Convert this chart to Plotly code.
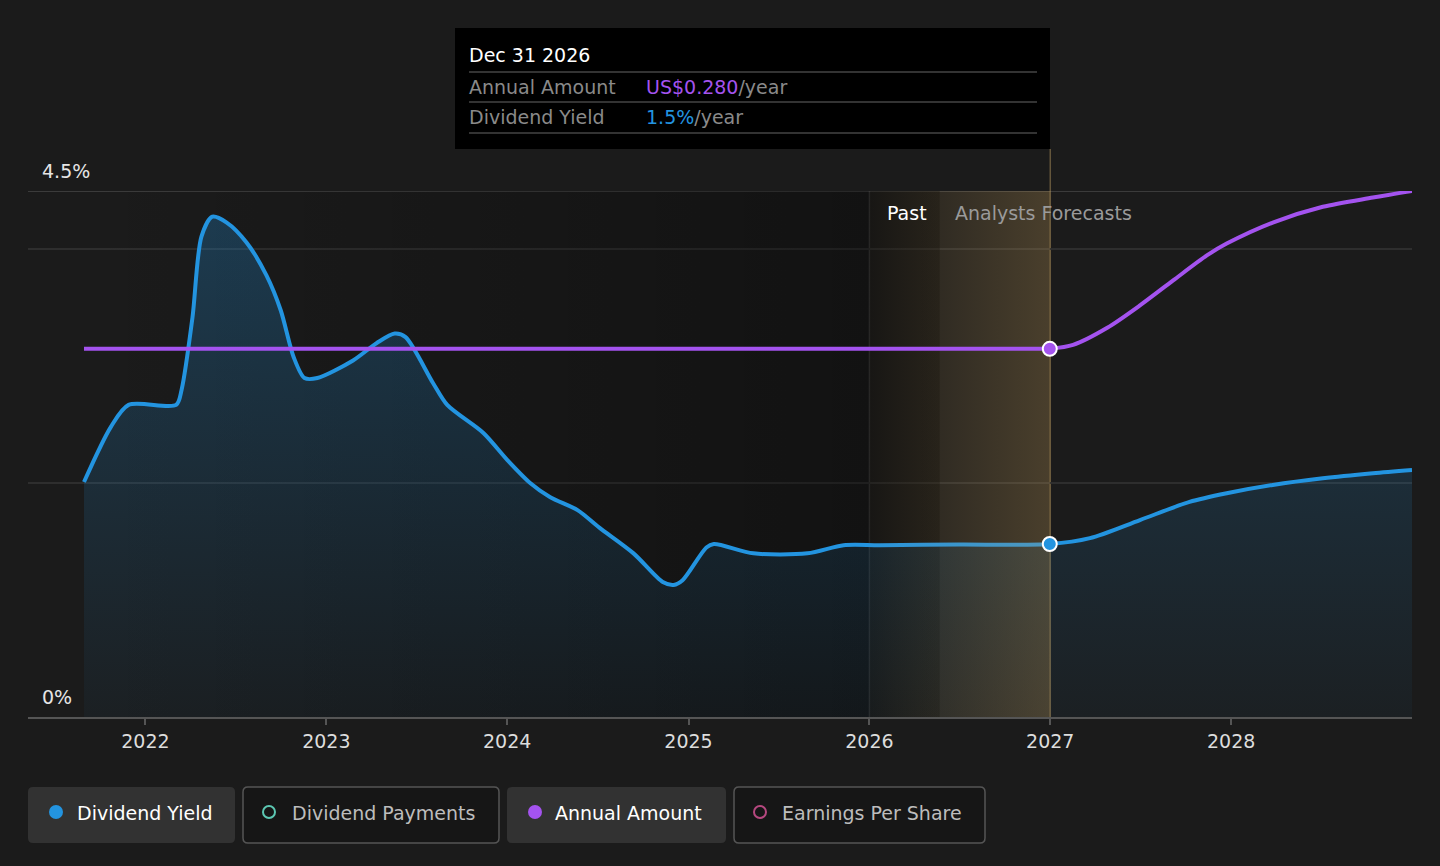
"""
Dividend yield / annual amount chart (dark theme) with plotly
"""
import plotly.graph_objects as go

# data
yield_dates = ['2021-08-30', '2021-10-23', '2021-11-28', '2022-03-04', '2022-03-15',
               '2022-04-06', '2022-04-24', '2022-05-16', '2022-06-14', '2022-07-24', '2022-09-02',
               '2022-10-01', '2022-10-27', '2022-11-18', '2022-12-14', '2023-02-24', '2023-04-13',
               '2023-05-19', '2023-06-10', '2023-08-04', '2023-09-02', '2023-11-14', '2024-01-01',
               '2024-02-17', '2024-03-28', '2024-05-22', '2024-07-05', '2024-09-12', '2024-11-10',
               '2024-12-02', '2024-12-20', '2025-02-06', '2025-02-21', '2025-05-12', '2025-08-29',
               '2025-11-10', '2026-01-22', '2026-07-01', '2026-12-31', '2027-03-22', '2027-07-01',
               '2027-10-09', '2027-12-23', '2028-03-25', '2028-07-04', '2028-10-13', '2028-12-31']
yield_values = [2.01, 2.48, 2.67, 2.67, 2.80,
                3.42, 4.11, 4.28, 4.23, 4.06, 3.78,
                3.48, 3.08, 2.90, 2.90, 3.05, 3.20,
                3.28, 3.25, 2.86, 2.67, 2.43, 2.20,
                2.00, 1.88, 1.77, 1.62, 1.40, 1.155,
                1.13, 1.17, 1.45, 1.48, 1.40, 1.40,
                1.47, 1.47, 1.475, 1.48, 1.53, 1.685,
                1.84, 1.914, 1.985, 2.042, 2.085, 2.113]

amount_dates = ['2021-08-30', '2026-12-31', '2027-02-16', '2027-04-26', '2027-07-01', '2027-09-06',
                '2027-11-13', '2027-12-23', '2028-03-25', '2028-07-04', '2028-10-13', '2028-12-31']
amount_values = [0.28, 0.28, 0.283, 0.296, 0.313, 0.332,
                 0.351, 0.360, 0.376, 0.388, 0.395, 0.40]

current_date = '2026-12-31'
current_yield = 1.48
current_amount = 0.28

year_ticks = ['2022-01-01', '2023-01-01', '2024-01-01', '2025-01-01', '2026-01-01', '2027-01-01', '2028-01-01']
year_labels = ['2022', '2023', '2024', '2025', '2026', '2027', '2028']

past_start = '2026-01-01'
past_label_end = '2026-05-23'
forecast_start = '2027-01-01'

BG = '#1b1b1b'
BLUE = '#2394e0'
PURPLE = '#a453ef'
FONT = 'DejaVu Sans'
FS = 19


# pixel -> paper helpers (plot area 28..1412 x 191..717)
def px(x):
    return (x - 28) / 1384


def py(y):
    return (717 - y) / 526


def rounded_rect(x0, y0, x1, y1, r=5):
    return (f"M {px(x0 + r)},{py(y0)} L {px(x1 - r)},{py(y0)} Q {px(x1)},{py(y0)} {px(x1)},{py(y0 + r)} "
            f"L {px(x1)},{py(y1 - r)} Q {px(x1)},{py(y1)} {px(x1 - r)},{py(y1)} "
            f"L {px(x0 + r)},{py(y1)} Q {px(x0)},{py(y1)} {px(x0)},{py(y1 - r)} "
            f"L {px(x0)},{py(y0 + r)} Q {px(x0)},{py(y0)} {px(x0 + r)},{py(y0)} Z")


def label(text, x, y, color, size=FS):
    # 左对齐文字，x 减 2 抵消 annotation 自带的内边距
    return dict(text=text, x=px(x - 2), y=py(y), xref='paper', yref='paper', xanchor='left',
                yanchor='middle', showarrow=False, font=dict(size=size, color=color, family=FONT))


fig = go.Figure()

# 过去区域的暗色渐变
fig.add_trace(go.Scatter(
    x=[yield_dates[0], past_label_end, past_label_end, yield_dates[0]],
    y=[0, 0, 4.5, 4.5],
    fill='toself', mode='lines', line=dict(width=0),
    fillgradient=dict(type='horizontal',
                      colorscale=[[0, 'rgba(0,0,0,0)'], [1, 'rgba(0,0,0,0.36)']]),
    hoverinfo='skip', showlegend=False
))

# dividend yield fill
fig.add_trace(go.Scatter(
    x=yield_dates, y=yield_values, mode='lines',
    line=dict(width=0, shape='spline', smoothing=0.8),
    fill='tozeroy',
    fillgradient=dict(type='vertical', start=0, stop=4.5,
                      colorscale=[[0, 'rgba(35,148,224,0.04)'], [1, 'rgba(35,148,224,0.28)']]),
    hoverinfo='skip', showlegend=False
))

# annual amount: flat past part + smooth forecast part
split = amount_dates.index(current_date)
fig.add_trace(go.Scatter(
    x=amount_dates[:split + 1], y=amount_values[:split + 1], mode='lines', yaxis='y2',
    line=dict(color=PURPLE, width=4),
    name='Annual Amount', showlegend=False
))
fig.add_trace(go.Scatter(
    x=amount_dates[split:], y=amount_values[split:], mode='lines', yaxis='y2',
    line=dict(color=PURPLE, width=4, shape='spline', smoothing=0.8),
    name='Annual Amount', showlegend=False
))

# dividend yield line
fig.add_trace(go.Scatter(
    x=yield_dates, y=yield_values, mode='lines',
    line=dict(color=BLUE, width=4, shape='spline', smoothing=0.8),
    name='Dividend Yield', showlegend=False
))

# past -> forecast golden band
fig.add_trace(go.Scatter(
    x=[past_start, forecast_start, forecast_start, past_start],
    y=[0, 0, 4.5, 4.5],
    fill='toself', mode='lines', line=dict(width=0),
    fillgradient=dict(type='horizontal',
                      colorscale=[[0, 'rgba(200,160,90,0.03)'], [1, 'rgba(200,160,90,0.27)']]),
    hoverinfo='skip', showlegend=False
))

# current markers
fig.add_trace(go.Scatter(
    x=[current_date], y=[current_amount], mode='markers', yaxis='y2',
    marker=dict(size=14, color=PURPLE, line=dict(color='white', width=2)),
    hoverinfo='skip', showlegend=False
))
fig.add_trace(go.Scatter(
    x=[current_date], y=[current_yield], mode='markers',
    marker=dict(size=14, color=BLUE, line=dict(color='white', width=2)),
    hoverinfo='skip', showlegend=False
))

shapes = [
    # top line at 4.5%
    dict(type='line', xref='paper', yref='y', x0=0, x1=1, y0=4.5, y1=4.5,
         line=dict(color='#474747', width=1.5), layer='below'),
    # 2026 / 2027 boundaries
    dict(type='line', xref='x', yref='y', x0=past_start, x1=past_start, y0=0, y1=4.5,
         line=dict(color='rgba(255,255,255,0.12)', width=1.5), layer='below'),
    dict(type='line', xref='x', yref='paper', x0=forecast_start, x1=forecast_start, y0=0, y1=py(149),
         line=dict(color='rgba(190,160,100,0.45)', width=1.5), layer='below'),
    # tooltip
    dict(type='rect', xref='paper', yref='paper', x0=px(455), x1=px(1050), y0=py(149), y1=py(28),
         fillcolor='#000000', line=dict(width=0), layer='above'),
]
for ly in [72, 102, 133]:
    shapes.append(dict(type='line', xref='paper', yref='paper', x0=px(469), x1=px(1037), y0=py(ly), y1=py(ly),
                       line=dict(color='#444444', width=1.5), layer='above'))

annotations = [
    label('4.5%', 42, 171, '#e6e6e6'),
    label('0%', 42, 697, '#e6e6e6'),
    label('Past', 887, 213, '#ffffff'),
    label('Analysts Forecasts', 955, 213, '#9a9a9a'),
    # tooltip texts
    label('Dec 31 2026', 469, 55, '#ffffff'),
    label('Annual Amount', 469, 87, '#8a8a8a'),
    label(f"<span style='color:{PURPLE}'>US${current_amount:.3f}</span>/year", 646, 87, '#8a8a8a'),
    label('Dividend Yield', 469, 117, '#8a8a8a'),
    label(f"<span style='color:{BLUE}'>1.5%</span>/year", 646, 117, '#8a8a8a'),
]

# 自制图例按钮
legend_items = [
    # label, box x0, x1, active, dot colour, text x
    ('Dividend Yield', 28, 235, True, BLUE, 77),
    ('Dividend Payments', 243, 499, False, '#5cc7b2', 292),
    ('Annual Amount', 507, 726, True, PURPLE, 555),
    ('Earnings Per Share', 734, 985, False, '#b5487f', 782),
]
for name, bx0, bx1, active, dot, tx in legend_items:
    if active:
        shapes.append(dict(type='path', path=rounded_rect(bx0, 787, bx1, 843), xref='paper', yref='paper',
                           fillcolor='#323232', line=dict(width=0)))
        shapes.append(dict(type='circle', xref='paper', yref='paper', xsizemode='pixel', ysizemode='pixel',
                           xanchor=px(bx0 + 28), yanchor=py(812), x0=-7, x1=7, y0=-7, y1=7,
                           fillcolor=dot, line=dict(width=0)))
        tcol = '#ffffff'
    else:
        shapes.append(dict(type='path', path=rounded_rect(bx0, 787, bx1, 843), xref='paper', yref='paper',
                           fillcolor='#161616', line=dict(color='#555555', width=1.5)))
        shapes.append(dict(type='circle', xref='paper', yref='paper', xsizemode='pixel', ysizemode='pixel',
                           xanchor=px(bx0 + 26), yanchor=py(812), x0=-6, x1=6, y0=-6, y1=6,
                           fillcolor='rgba(0,0,0,0)', line=dict(color=dot, width=2)))
        tcol = '#bdbdbd'
    annotations.append(label(name, tx, 813, tcol))

fig.update_layout(
    width=1440, height=866,
    margin=dict(l=28, r=28, t=191, b=149),
    paper_bgcolor=BG, plot_bgcolor=BG,
    font=dict(family=FONT, color='#dddddd'),
    showlegend=False,
    xaxis=dict(type='date', range=['2021-05-09', '2028-12-31'],
               tickvals=year_ticks, ticktext=year_labels,
               ticks='outside', ticklen=6, tickwidth=1.5, tickcolor='#555555',
               tickfont=dict(size=FS, color='#dddddd', family=FONT),
               showline=True, linecolor='#555555', linewidth=1.5,
               showgrid=False, zeroline=False, fixedrange=True),
    yaxis=dict(range=[0, 4.5], tickvals=[2, 4], showticklabels=False,
               gridcolor='#2e2e2e', gridwidth=1.5, zeroline=False, showline=False, fixedrange=True),
    yaxis2=dict(range=[0, 0.4], overlaying='y', side='right', visible=False, fixedrange=True),
    shapes=shapes,
    annotations=annotations,
)

fig.write_html("out.html", config={'displayModeBar': False},
               post_script="document.body.style.margin='0';document.body.style.background='#1b1b1b';")
